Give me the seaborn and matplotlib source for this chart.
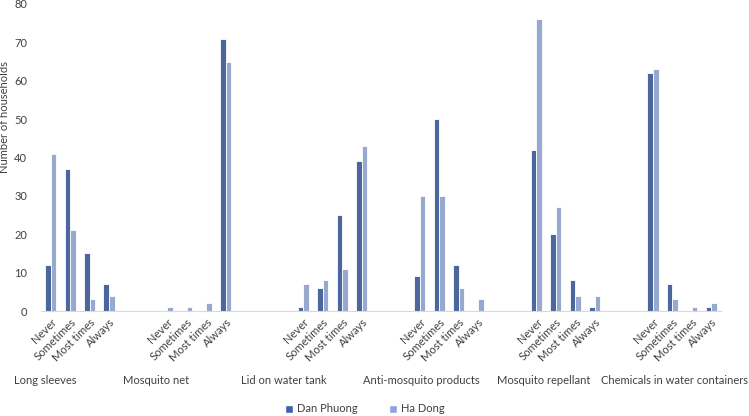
import pandas as pd
import seaborn as sns
import matplotlib.pyplot as plt
from matplotlib.patches import Patch
from matplotlib.transforms import blended_transform_factory

practices = ['Long sleeves', 'Mosquito net', 'Lid on water tank',
             'Anti-mosquito products', 'Mosquito repellant',
             'Chemicals in water containers']
frequency = ['Never', 'Sometimes', 'Most times', 'Always']
districts = ['Dan Phuong', 'Ha Dong']

dan_phuong = [
    [12, 37, 15, 7],
    [0, 0, 0, 71],
    [1, 6, 25, 39],
    [9, 50, 12, 0],
    [42, 20, 8, 1],
    [62, 7, 0, 1],
]
ha_dong = [
    [41, 21, 3, 4],
    [1, 1, 2, 65],
    [7, 8, 11, 43],
    [30, 30, 6, 3],
    [76, 27, 4, 4],
    [63, 3, 1, 2],
]

# empty category slots before each group (as in the spreadsheet layout)
blank_before = [0, 2, 3, 2, 2, 2]
label_shift = [-0.26, -0.58, -1.0, 0.05, 0.35, 1.11]
colors = ['#3E63AC', '#8FA5D8']

rows = []
order = []
tick_pos = []
tick_lab = []
group_start = []
slot = 0
for g, practice in enumerate(practices):
    for b in range(blank_before[g]):
        order.append(f'blank_{g}_{b}')
        slot += 1
    group_start.append(slot)
    for k, freq in enumerate(frequency):
        key = f'{practice}|{freq}'
        order.append(key)
        tick_pos.append(slot)
        tick_lab.append(freq)
        rows.append({'slot': key, 'district': 'Dan Phuong', 'households': dan_phuong[g][k]})
        rows.append({'slot': key, 'district': 'Ha Dong', 'households': ha_dong[g][k]})
        slot += 1
df = pd.DataFrame(rows)

sns.set_style('white')
plt.rcParams['font.family'] = ['Lato', 'DejaVu Sans']

fig = plt.figure(figsize=(7.49, 4.16), dpi=100)
ax = fig.add_axes([41 / 749, 1 - 311 / 416, 680 / 749, 307 / 416])

sns.barplot(data=df, x='slot', y='households', hue='district', order=order,
            hue_order=districts, palette=colors, width=0.58, errorbar=None,
            edgecolor='white', linewidth=0.6, legend=False, ax=ax)

ax.set_xlim(-0.5, len(order) - 0.5)
ax.set_ylim(0, 80)
ax.set_yticks(range(0, 81, 10))
ax.set_xticks(tick_pos)
ax.set_xticklabels(tick_lab, rotation=45, ha='right', rotation_mode='anchor',
                   fontsize=8, color='#404040')
ax.tick_params(axis='y', labelsize=8, labelcolor='#404040', length=0, pad=10)
ax.tick_params(axis='x', length=0, pad=4)
ax.set_xlabel('')
ax.set_ylabel('Number of households', fontsize=8, color='#404040')
ax.yaxis.set_label_coords(-0.045, 0.632)

for side in ['left', 'right', 'top']:
    ax.spines[side].set_visible(False)
ax.spines['bottom'].set_color('#D9D9D9')

trans = blended_transform_factory(ax.transData, ax.transAxes)
for g, practice in enumerate(practices):
    ax.text(group_start[g] + label_shift[g], -0.228, practice, transform=trans,
            ha='center', va='center', fontsize=8, color='#404040')

handles = [Patch(facecolor=c, label=d) for c, d in zip(colors, districts)]
fig.legend(handles=handles, loc='center', bbox_to_anchor=(365 / 749, 1 - 409 / 416),
           ncol=2, frameon=False, fontsize=8, handlelength=0.7, handleheight=0.7,
           handletextpad=0.4, columnspacing=2.8, labelcolor='#404040')

fig.savefig('out.png', dpi=100)
